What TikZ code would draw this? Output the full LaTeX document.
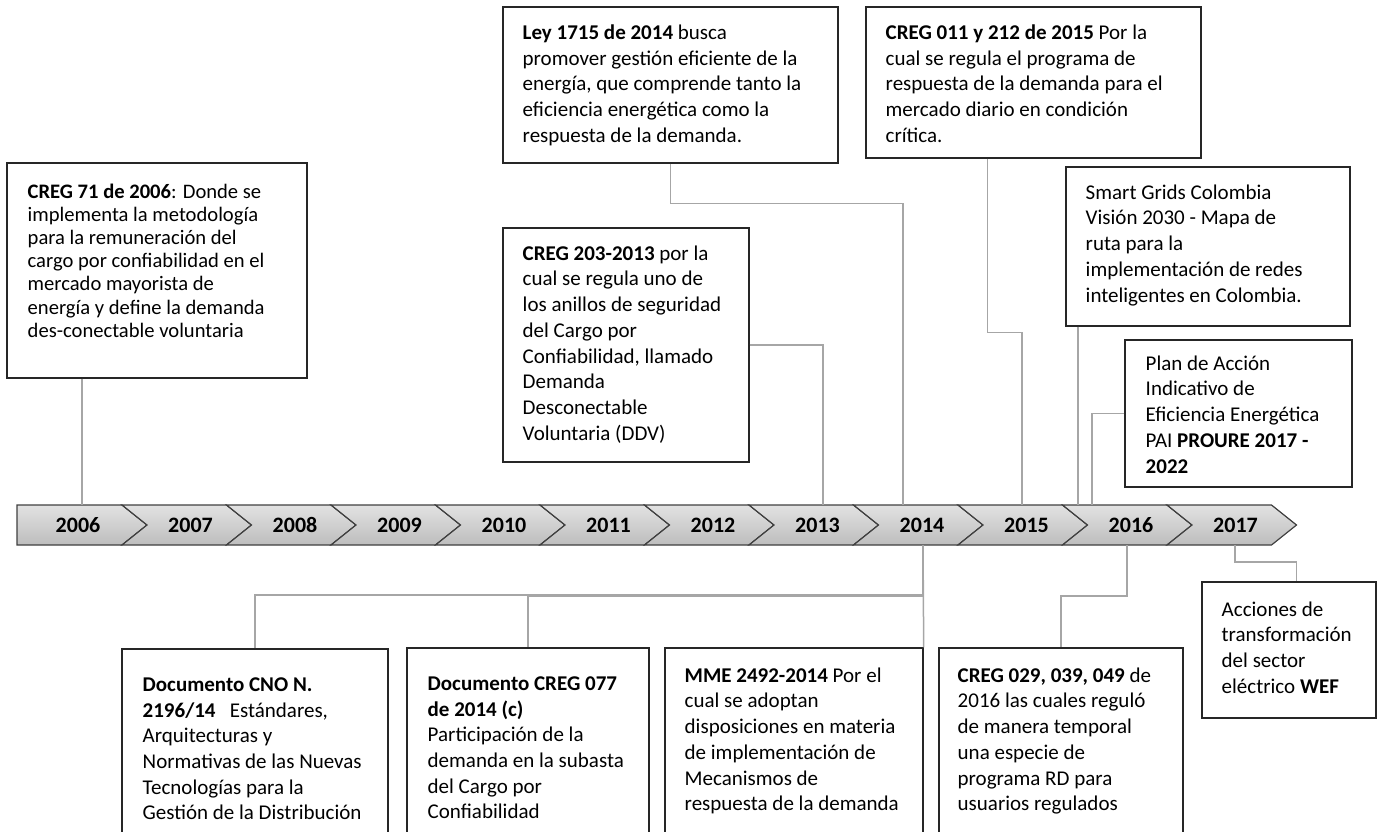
\documentclass[tikz,border=0pt]{standalone}
\usepackage{fontspec}
\setmainfont{Carlito}
\usetikzlibrary{calc,fit}
\definecolor{lineagris}{HTML}{A6A6A6}
\definecolor{bordecaja}{HTML}{262626}
\definecolor{bordebanda}{HTML}{404040}
\definecolor{bandaclaro}{HTML}{E2E2E2}
\definecolor{bandaoscuro}{HTML}{BDBDBD}
\tikzset{
  caja/.style={draw=bordecaja, line width=0.7pt, inner sep=0pt, fill=white},
  texto/.style={anchor=north west, align=left, inner sep=0pt,
    font=\fontsize{10.5}{12.85}\selectfont},
  textochico/.style={texto, font=\fontsize{10.3}{11.6}\selectfont},
  conector/.style={draw=lineagris, line width=0.75pt},
  flecha/.style={draw=bordebanda, line width=0.6pt,
    top color=bandaclaro, bottom color=bandaoscuro},
  anio/.style={font=\fontsize{11}{13}\selectfont\bfseries}
}

\begin{document}
\begin{tikzpicture}[x=0.5pt,y=-0.5pt]
  \useasboundingbox (0,0) rectangle (1382,831);
  \clip (0,0) rectangle (1382,831);

  % linea de tiempo
  \draw[flecha] (17,505) -- (122,505) -- (147,525) -- (122,545) -- (17,545) -- cycle;
  \foreach \i in {1,...,11} {
    \pgfmathsetmacro{\xa}{122+104.5*(\i-1)}
    \pgfmathsetmacro{\xb}{122+104.5*\i}
    \draw[flecha] (\xa,505) -- (\xb,505) -- (\xb+25,525) -- (\xb,545)
      -- (\xa,545) -- (\xa+25,525) -- cycle;
  }

  % anios
  \node[anio] (a2006) at (78,525) {2006};
  \foreach \a [count=\i] in {2007,...,2017}
    \node[anio] (a\a) at (86+104.5*\i,525) {\a};

  % puntos de enlace
  \coordinate (p2006) at (82,505);
  \coordinate (p2013) at (823,505);
  \coordinate (p2014) at (903,505);
  \coordinate (p2015) at (1022,505);
  \coordinate (p2016a) at (1078,505);
  \coordinate (p2016b) at (1092,505);
  \coordinate (q2014) at (923,545);
  \coordinate (q2016) at (1127,545);
  \coordinate (q2017) at (1235,545);

  % cajas de arriba
  \node[caja, fit={(7,163) (307,378)}] (c71) {};
  \node[textochico] (c71t) at ([shift={(10.5pt,-10.5pt)}]c71.north west)
    {\textbf{CREG 71 de 2006}: Donde se\\ implementa la metodología\\
     para la remuneración del\\ cargo por confiabilidad en el\\
     mercado mayorista de\\ energía y define la demanda\\
     des-conectable voluntaria};

  \node[caja, fit={(503,7) (838,163)}] (ley) {};
  \node[texto] (leyt) at ([shift={(10pt,-9pt)}]ley.north west)
    {\textbf{Ley 1715 de 2014} busca\\ promover gestión eficiente de la\\
     energía, que comprende tanto la\\ eficiencia energética como la\\
     respuesta de la demanda.};

  \node[caja, fit={(503,228) (749,462)}] (c203) {};
  \node[texto] (c203t) at ([shift={(10pt,-9pt)}]c203.north west)
    {\textbf{CREG 203-2013} por la\\ cual se regula uno de\\
     los anillos de seguridad\\ del Cargo por\\ Confiabilidad, llamado\\
     Demanda\\ Desconectable\\ Voluntaria (DDV)};

  \node[caja, fit={(866,7) (1201,158)}] (c011) {};
  \node[texto] (c011t) at ([shift={(10pt,-9pt)}]c011.north west)
    {\textbf{CREG 011 y 212 de 2015} Por la\\ cual se regula el programa de\\
     respuesta de la demanda para el\\ mercado diario en condición\\ crítica.};

  \node[caja, fit={(1066,167) (1350,326)}] (smart) {};
  \node[texto] (smartt) at ([shift={(10pt,-9pt)}]smart.north west)
    {Smart Grids Colombia\\ Visión 2030 - Mapa de\\ ruta para la\\
     implementación de redes\\ inteligentes en Colombia.};

  \node[caja, fit={(1125,340) (1352,487)}] (plan) {};
  \node[texto] (plant) at ([shift={(10.5pt,-8pt)}]plan.north west)
    {Plan de Acción\\ Indicativo de\\ Eficiencia Energética\\
     PAI \textbf{PROURE 2017 -}\\ \textbf{2022}};

  % cajas de abajo
  \node[caja, fit={(122,649) (388,845)}] (cno) {};
  \node[texto] (cnot) at ([shift={(10.5pt,-14.5pt)}]cno.north west)
    {\textbf{Documento CNO N.}\\ \textbf{2196/14}\ \ \ Estándares,\\
     Arquitecturas y\\ Normativas de las Nuevas\\ Tecnologías para la\\
     Gestión de la Distribución};

  \node[caja, fit={(407,648) (649,845)}] (c077) {};
  \node[texto] (c077t) at ([shift={(10.5pt,-14.5pt)}]c077.north west)
    {\textbf{Documento CREG 077}\\ \textbf{de 2014 (c)}\\ Participación de la\\
     demanda en la subasta\\ del Cargo por\\ Confiabilidad};

  \node[caja, fit={(665,648) (923,845)}] (mme) {};
  \node[texto] (mmet) at ([shift={(10pt,-10pt)}]mme.north west)
    {\textbf{MME 2492-2014} Por el\\ cual se adoptan\\ disposiciones en materia\\
     de implementación de\\ Mecanismos de\\ respuesta de la demanda};

  \node[caja, fit={(939,648) (1183,845)}] (c029) {};
  \node[texto] (c029t) at ([shift={(9.5pt,-10pt)}]c029.north west)
    {\textbf{CREG 029, 039, 049} de\\ 2016 las cuales reguló\\ de manera temporal\\
     una especie de\\ programa RD para\\ usuarios regulados};

  \node[caja, fit={(1202,582) (1376,718)}] (wef) {};
  \node[texto] (weft) at ([shift={(10pt,-10pt)}]wef.north west)
    {Acciones de\\ transformación\\ del sector\\ eléctrico \textbf{WEF}};

  % conectores
  \draw[conector] (c71.south -| p2006) -- (p2006);
  \draw[conector] (ley.south) -- ++(0,40) -| (p2014);
  \draw[conector] (c203.east) -| (p2013);
  \draw[conector] ($(c011.south west)+(122,0)$) -- ++(0,174) -| (p2015);
  \draw[conector] (smart.south -| p2016a) -- (p2016a);
  \draw[conector] (plan.west) -| (p2016b);
  \draw[conector] (q2014) -- (mme.north east);
  \draw[conector] (q2014) -- ++(0,50) -| (cno.north);
  \draw[conector] (q2014) -- ++(0,51) -| (c077.north);
  \draw[conector] (q2016) -- ++(0,51) -| (c029.north);
  \draw[conector] (q2017) -- ++(0,17) -| ($(wef.north west)+(95,0)$);
\end{tikzpicture}
\end{document}
